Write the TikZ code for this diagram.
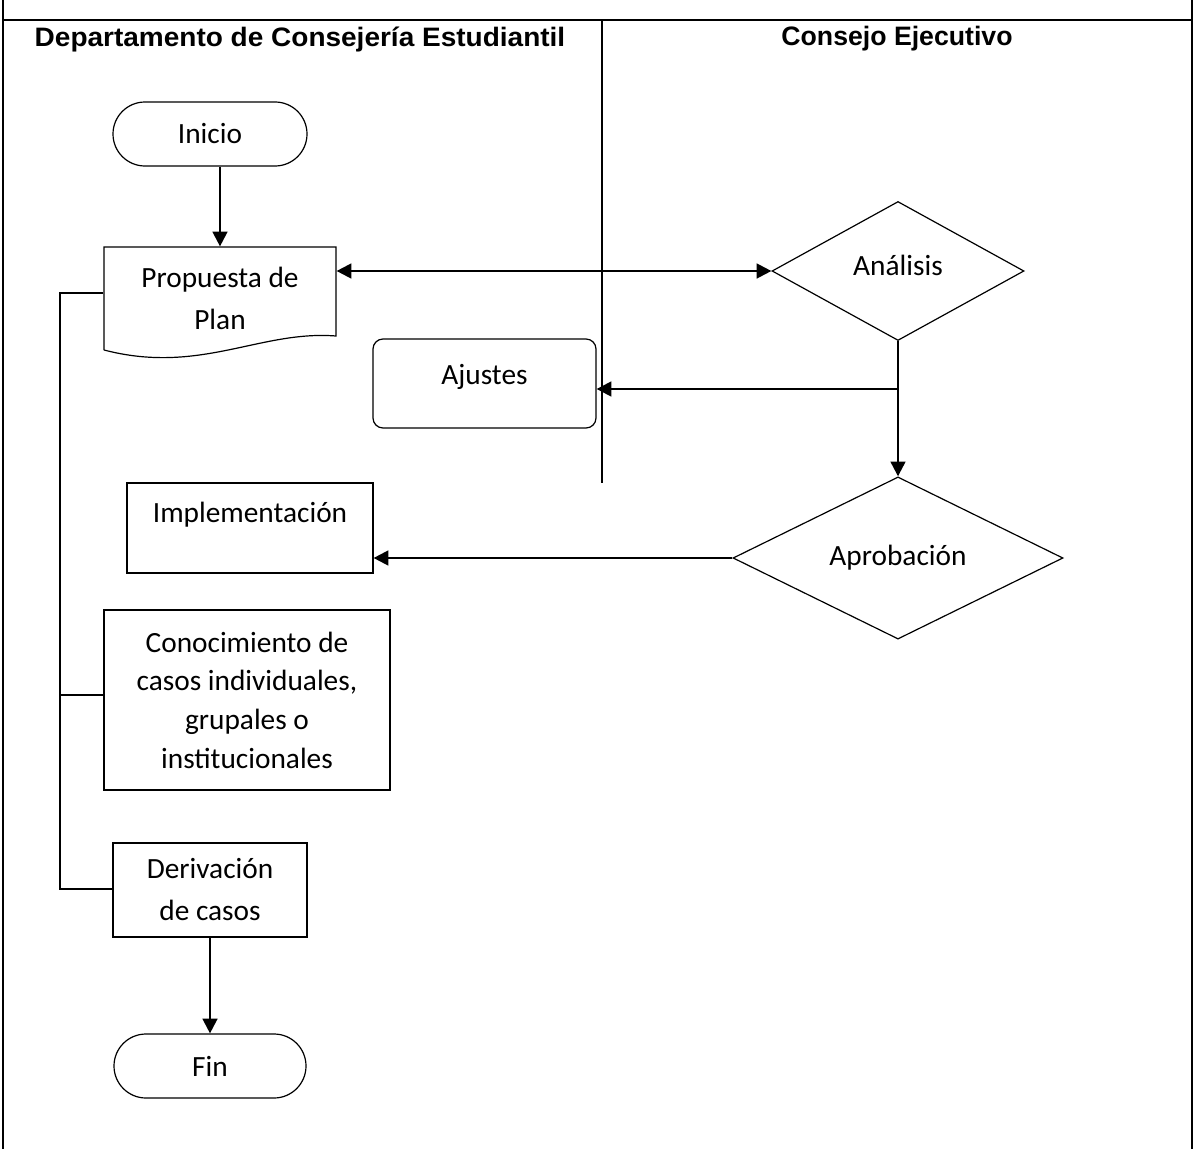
\documentclass[tikz,border=0pt]{standalone}
\usepackage{fontspec}
\setmainfont{Carlito}
\newfontfamily\hdrfont{Liberation Sans}
\usetikzlibrary{shapes.geometric,arrows.meta}
\begin{document}
\begin{tikzpicture}[x=0.75pt,y=-0.75pt,
  box/.style={draw, line width=0.9pt, inner sep=0pt, align=center, font=\fontsize{22}{32}\selectfont},
  term/.style={box, rounded corners=24pt},
  dec/.style={draw, line width=0.9pt, diamond, inner sep=0pt, font=\fontsize{22}{32}\selectfont},
  lift/.style={text height=15pt, text depth=#1},
  conn/.style={line width=1.7pt},
  arr/.style={conn, -{Triangle[length=11pt,width=11pt]}},
  tbl/.style={line width=1.1pt},
  hdr/.style={font=\hdrfont\bfseries\fontsize{20}{24}\selectfont}
]
\useasboundingbox (0,0) rectangle (1196,1149);

% table frame
\coordinate (tl) at (3,20);
\coordinate (tr) at (1192,20);
\coordinate (dtop) at (602,20);
\coordinate (dbot) at (602,483);
\draw[tbl] (3,0) -- (3,1149);
\draw[tbl] (1192,0) -- (1192,1149);
\draw[tbl] (tl) -- (tr);
\draw[tbl] (dtop) -- (dbot);
\node[hdr, transform shape, xscale=1.05] (h1) at (300,39) {Departamento de Consejería Estudiantil};
\node[hdr] (h2) at (897,39) {Consejo Ejecutivo};

% nodes
\node[term, minimum width=145.5pt, minimum height=48pt] (ini) at (210,134) {Inicio};
\node[box, draw=none, minimum width=174pt, minimum height=77.25pt] (prop) at (220,298.5) {Propuesta de\\Plan};
\draw[line width=0.9pt] (104,350) -- (104,247) -- (336,247) -- (336,336)
   .. controls (260,330) and (200,375) .. (104,350);
\node[dec, minimum width=189pt, minimum height=104.25pt] (anal) at (898,271) {\raisebox{9pt}{Análisis}};
\node[box, rounded corners=7.5pt, minimum width=167.25pt, minimum height=66.75pt, lift=13.6pt] (aju) at (484.5,383.5) {Ajustes};
\node[dec, minimum width=247.5pt, minimum height=85.5pt] (aprob) at (898,558) {Aprobación};
\node[box, minimum width=184.5pt, minimum height=67.5pt, lift=22.8pt] (impl) at (250,528) {Implementación};
\node[box, minimum width=214.5pt, minimum height=135pt, font=\fontsize{22}{29}\selectfont] (conoc) at (247,700) {Conocimiento de\\casos individuales,\\grupales o\\institucionales};
\node[box, minimum width=145.5pt, minimum height=70.5pt, font=\fontsize{22}{31.5}\selectfont] (deriv) at (210,890) {Derivación\\de casos};
\node[term, minimum width=144pt, minimum height=48pt] (fin) at (210,1066) {Fin};

% connectors
\draw[arr] (ini.south -| prop.north) -- (prop.north);
\draw[conn, {Triangle[length=11pt,width=11pt]}-{Triangle[length=11pt,width=11pt]}] (anal.west -| prop.east) -- (anal.west);
\coordinate (br) at (898,389);
\draw[arr] (anal.south) -- (aprob.north);
\draw[arr] (br) -- (br -| aju.east);
\draw[arr] (aprob.west) -- (aprob.west -| impl.east);
\draw[arr] (deriv.south) -- (deriv.south |- fin.north);

% left bracket
\coordinate (b1) at (60,293);
\coordinate (b2) at (60,695);
\coordinate (b3) at (60,889);
\draw[line width=0.9pt] (b1 -| prop.west) -- (b1) -- (b3) -- (b3 -| deriv.west);
\draw[line width=0.9pt] (b2) -- (b2 -| conoc.west);
\end{tikzpicture}
\end{document}
